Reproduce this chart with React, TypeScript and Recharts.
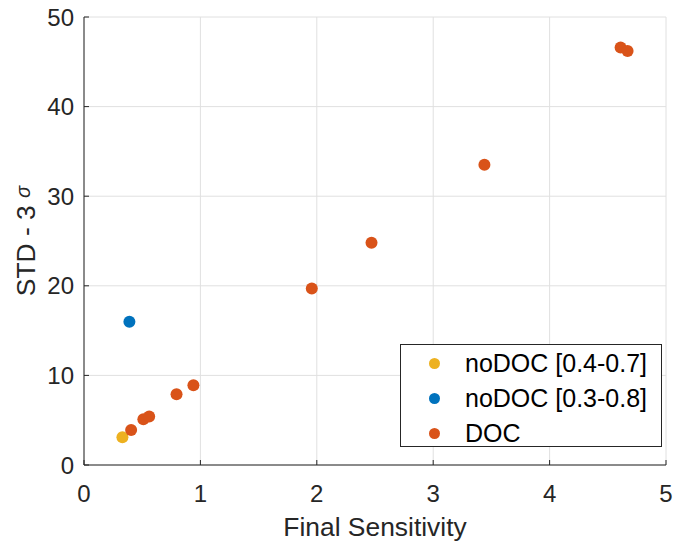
import React from "react";
import { CartesianGrid, Scatter, ScatterChart, XAxis, YAxis } from "recharts";

const X_TICKS = [0, 1, 2, 3, 4, 5];
const Y_TICKS = [0, 10, 20, 30, 40, 50];

// noDOC [0.4-0.7]
const NODOC_A = [{ x: 0.33, y: 3.1 }];
// noDOC [0.3-0.8]
const NODOC_B = [{ x: 0.39, y: 16.0 }];
// DOC
const DOC = [
  { x: 0.405, y: 3.9 },
  { x: 0.51, y: 5.1 },
  { x: 0.56, y: 5.4 },
  { x: 0.795, y: 7.9 },
  { x: 0.94, y: 8.9 },
  { x: 1.957, y: 19.7 },
  { x: 2.47, y: 24.8 },
  { x: 3.44, y: 33.5 },
  { x: 4.61, y: 46.6 },
  { x: 4.67, y: 46.2 },
];

const SERIES = [
  { name: "noDOC [0.4-0.7]", color: "#EDB120", data: NODOC_A },
  { name: "noDOC [0.3-0.8]", color: "#0072BD", data: NODOC_B },
  { name: "DOC", color: "#D95319", data: DOC },
];

const FONT = "'Liberation Sans', Arial, Helvetica, sans-serif";
const INK = "#262626";
const GRID = "#e0e0e0";
const TICK = { fill: INK, fontSize: 24, fontFamily: FONT };
const LABEL_SIZE = 26.4;

const dot = (color: string) => (p: any) => (
  <circle cx={p.cx} cy={p.cy} r={6} fill={color} />
);

function YLabel(props: any) {
  const vb = props.viewBox || { x: 0, y: 0, width: 0, height: 0 };
  const cx = vb.x + 35;
  const cy = vb.y + vb.height / 2;
  return (
    <text
      x={cx}
      y={cy}
      transform={`rotate(-90 ${cx} ${cy})`}
      textAnchor="middle"
      fill={INK}
      fontSize={LABEL_SIZE}
      fontFamily={FONT}
    >
      STD - 3{" "}
      <tspan fontStyle="italic" fontSize={20} dy={-5}>
        σ
      </tspan>
    </text>
  );
}

function LegendBox() {
  return (
    <div
      style={{
        position: "absolute",
        left: 400,
        top: 344,
        width: 260,
        height: 101,
        border: `1px solid ${INK}`,
        background: "#fff",
        fontFamily: FONT,
        fontSize: 25,
        color: "#000",
      }}
    >
      {SERIES.map((s) => (
        <div
          key={s.name}
          style={{ display: "flex", alignItems: "center", height: 33, marginTop: 2 }}
        >
          <span
            style={{
              width: 11,
              height: 11,
              borderRadius: "50%",
              background: s.color,
              marginLeft: 28,
              marginRight: 25,
              flex: "none",
            }}
          />
          <span style={{ lineHeight: "33px", whiteSpace: "nowrap" }}>{s.name}</span>
        </div>
      ))}
    </div>
  );
}

export default function App() {
  return (
    <div style={{ position: "absolute", left: 0, top: 0, width: 678, height: 545, background: "#fff" }}>
      <ScatterChart
        width={678}
        height={545}
        margin={{ top: 17, right: 12, bottom: 0, left: 0 }}
      >
        <CartesianGrid stroke={GRID} strokeWidth={1} />
        <XAxis
          type="number"
          dataKey="x"
          domain={[0, 5]}
          ticks={X_TICKS}
          height={80}
          tick={TICK}
          stroke={INK}
          tickSize={-5}
          tickMargin={25}
          label={{
            value: "Final Sensitivity",
            position: "insideBottom",
            offset: 9,
            fill: INK,
            fontSize: LABEL_SIZE,
            fontFamily: FONT,
          }}
        />
        <XAxis
          xAxisId="top"
          orientation="top"
          type="number"
          dataKey="x"
          domain={[0, 5]}
          ticks={X_TICKS}
          height={0}
          tick={false}
          stroke={INK}
          tickSize={-5}
        />
        <YAxis
          type="number"
          dataKey="y"
          domain={[0, 50]}
          ticks={Y_TICKS}
          width={84}
          tick={TICK}
          stroke={INK}
          tickSize={-5}
          tickMargin={15}
          label={{ content: YLabel }}
        />
        <YAxis
          yAxisId="right"
          orientation="right"
          type="number"
          dataKey="y"
          domain={[0, 50]}
          ticks={Y_TICKS}
          width={0}
          tick={false}
          stroke={INK}
          tickSize={-5}
        />
        {SERIES.map((s) => (
          <Scatter
            key={s.name}
            name={s.name}
            data={s.data}
            fill={s.color}
            shape={dot(s.color)}
            isAnimationActive={false}
          />
        ))}
      </ScatterChart>
      <LegendBox />
    </div>
  );
}
